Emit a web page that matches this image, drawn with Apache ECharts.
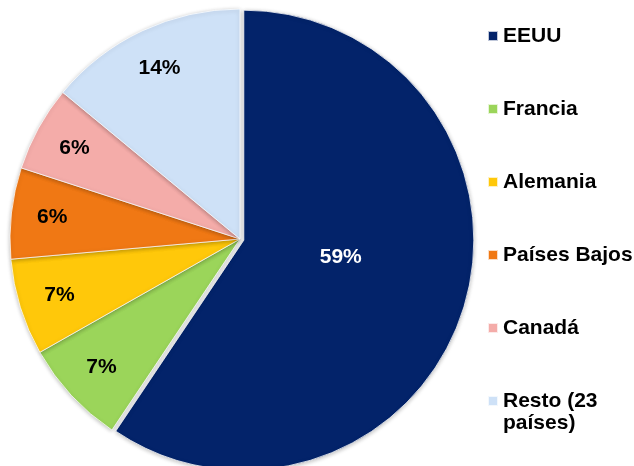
<!DOCTYPE html>
<html>
<head>
<meta charset="utf-8">
<script src="https://cdn.jsdelivr.net/npm/echarts@6/dist/echarts.min.js"></script>
<style>
  html, body { margin: 0; padding: 0; background: #fff; }
  #main { width: 634px; height: 466px; }
</style>
</head>
<body>
<div id="main"></div>
<script>
var paises = ['EEUU', 'Francia', 'Alemania', 'Países Bajos', 'Canadá', 'Resto (23'];
var cuotas = [59.4, 7.4, 6.8, 6.4, 6.0, 14.0];
var colores = ['#03236A', '#9BD55A', '#FFC80A', '#F07814', '#F4ACA9', '#CEE1F7'];

var myChart = echarts.init(document.getElementById('main'));

var datos = paises.map(function (p, i) {
    return {
        name: p,
        value: cuotas[i],
        selected: i === 0,
        itemStyle: { color: colores[i] }
    };
});

var etiqueta = function (params) {
    return Math.round(params.percent) + '%';
};

var option = {
    animation: false,
    title: {
        text: 'países)',
        left: 503,
        top: 411,
        padding: 0,
        textStyle: {
            fontFamily: 'Liberation Sans, Arial',
            fontSize: 21,
            fontWeight: 'bold',
            color: '#000',
            lineHeight: 24
        }
    },
    legend: {
        orient: 'vertical',
        left: 487,
        top: 21,
        padding: 0,
        itemWidth: 10,
        itemHeight: 10,
        itemGap: 43,
        itemTextGap: 5,
        icon: 'rect',
        data: paises,
        textStyle: {
            fontFamily: 'Liberation Sans, Arial',
            fontSize: 21,
            fontWeight: 'bold',
            color: '#000',
            lineHeight: 24,
            padding: [0, 0, 6, 0]
        }
    },
    series: [
        {
            name: 'Cuota',
            type: 'pie',
            center: [240, 239],
            radius: [0, 230],
            startAngle: 90,
            selectedMode: 'single',
            selectedOffset: 4,
            itemStyle: {
                borderColor: 'rgba(255,255,255,0.75)',
                borderWidth: 1,
                shadowBlur: 4,
                shadowColor: 'rgba(0,0,0,0.25)',
                shadowOffsetY: 1
            },
            label: {
                position: 'inside',
                color: '#fff',
                fontFamily: 'Liberation Sans, Arial',
                fontSize: 21,
                fontWeight: 'bold',
                formatter: function (p) {
                    return p.dataIndex === 0 ? etiqueta(p) : '';
                }
            },
            labelLayout: { dx: -16, dy: -17 },
            labelLine: { show: false },
            emphasis: { disabled: true },
            data: datos
        },
        {
            name: 'Etiquetas',
            type: 'pie',
            center: [240, 239],
            radius: [142, 230],
            startAngle: 90,
            silent: true,
            itemStyle: { color: 'rgba(0,0,0,0)' },
            label: {
                position: 'inside',
                color: '#000',
                fontFamily: 'Liberation Sans, Arial',
                fontSize: 21,
                fontWeight: 'bold',
                formatter: function (p) {
                    return p.dataIndex === 0 ? '' : etiqueta(p);
                }
            },
            labelLine: { show: false },
            emphasis: { disabled: true },
            data: paises.map(function (p, i) {
                return { name: p, value: cuotas[i] };
            })
        }
    ]
};

myChart.setOption(option);
</script>
</body>
</html>
